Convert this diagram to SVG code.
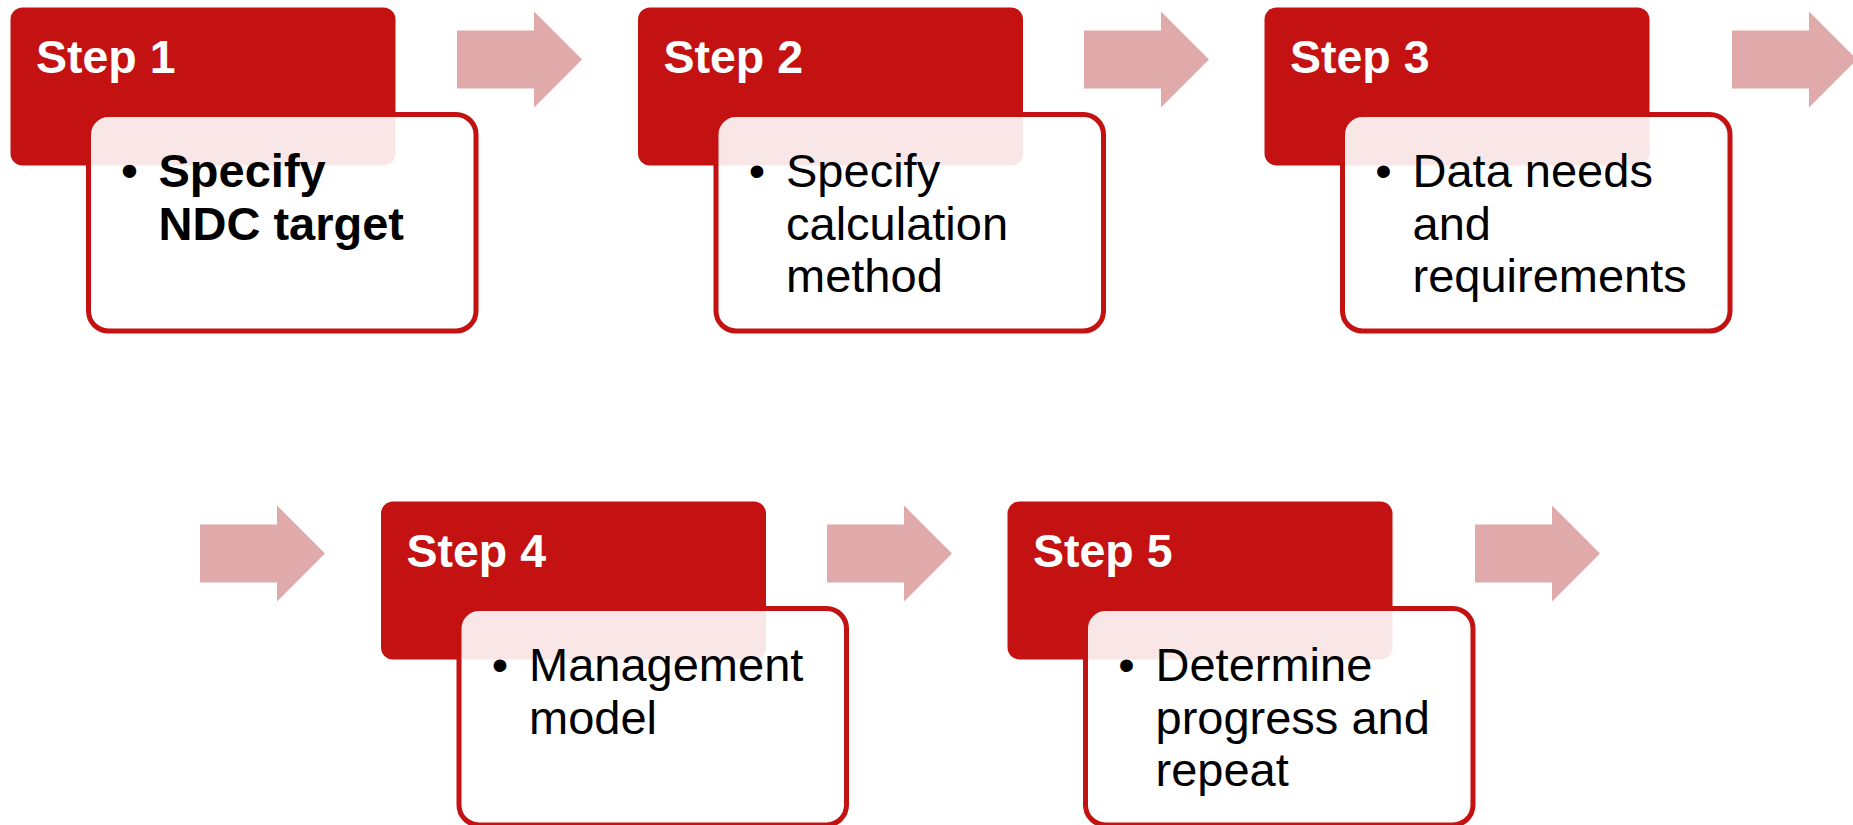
<svg xmlns="http://www.w3.org/2000/svg" width="1853" height="825" viewBox="0 0 1853 825">
  <style>
    .head { fill: #C41111; }
    .card { fill: #FFFFFF; fill-opacity: 0.9; stroke: #C41111; stroke-width: 5; }
    .arrow { fill: #E0AAAA; }
    .title { font-family: "Liberation Sans", Arial, sans-serif; font-weight: bold; font-size: 46.5px; fill: #FFFFFF; }
    .body { font-family: "Liberation Sans", Arial, sans-serif; font-size: 47px; fill: #000000; }
    .strong { font-weight: bold; }
  </style>
  <defs>
    <!-- block arrow, origin at left end of shaft centre line -->
    <path id="blockArrow" d="M0,-29 H77 V-48 L125,0 L77,48 V29 H0 Z"/>
  </defs>

  <rect width="1853" height="825" fill="#FFFFFF"/>

  <g id="connectors">
    <use href="#blockArrow" class="arrow" x="457" y="59.5"/>
    <use href="#blockArrow" class="arrow" x="1084" y="59.5"/>
    <use href="#blockArrow" class="arrow" x="1732" y="59.5"/>
    <use href="#blockArrow" class="arrow" x="200" y="553.5"/>
    <use href="#blockArrow" class="arrow" x="827" y="553.5"/>
    <use href="#blockArrow" class="arrow" x="1475" y="553.5"/>
  </g>

  <g id="step1">
    <rect class="head" x="10.5" y="7.5" width="385" height="158" rx="12"/>
    <rect class="card" x="88.5" y="114.5" width="387.5" height="216.5" rx="20"/>
    <text class="title" x="36" y="72.7">Step 1</text>
    <text class="body strong" x="129.5" y="187" text-anchor="middle">•</text>
    <text class="body strong" x="158.5" y="187">Specify</text>
    <text class="body strong" x="158.5" y="239.5">NDC target</text>
  </g>

  <g id="step2">
    <rect class="head" x="638" y="7.5" width="385" height="158" rx="12"/>
    <rect class="card" x="716" y="114.5" width="387.5" height="216.5" rx="20"/>
    <text class="title" x="663.5" y="72.7">Step 2</text>
    <text class="body" x="757" y="187" text-anchor="middle">•</text>
    <text class="body" x="786" y="187">Specify</text>
    <text class="body" x="786" y="239.5">calculation</text>
    <text class="body" x="786" y="292">method</text>
  </g>

  <g id="step3">
    <rect class="head" x="1264.5" y="7.5" width="385" height="158" rx="12"/>
    <rect class="card" x="1342.5" y="114.5" width="387.5" height="216.5" rx="20"/>
    <text class="title" x="1290" y="72.7">Step 3</text>
    <text class="body" x="1383.5" y="187" text-anchor="middle">•</text>
    <text class="body" x="1412.5" y="187">Data needs</text>
    <text class="body" x="1412.5" y="239.5">and</text>
    <text class="body" x="1412.5" y="292">requirements</text>
  </g>

  <g id="step4">
    <rect class="head" x="381" y="501.5" width="385" height="158" rx="12"/>
    <rect class="card" x="459" y="608.5" width="387.5" height="216.5" rx="20"/>
    <text class="title" x="406.5" y="566.7">Step 4</text>
    <text class="body" x="500" y="681" text-anchor="middle">•</text>
    <text class="body" x="529" y="681">Management</text>
    <text class="body" x="529" y="733.5">model</text>
  </g>

  <g id="step5">
    <rect class="head" x="1007.5" y="501.5" width="385" height="158" rx="12"/>
    <rect class="card" x="1085.5" y="608.5" width="387.5" height="216.5" rx="20"/>
    <text class="title" x="1033" y="566.7">Step 5</text>
    <text class="body" x="1126.5" y="681" text-anchor="middle">•</text>
    <text class="body" x="1155.5" y="681">Determine</text>
    <text class="body" x="1155.5" y="733.5">progress and</text>
    <text class="body" x="1155.5" y="786">repeat</text>
  </g>
</svg>
